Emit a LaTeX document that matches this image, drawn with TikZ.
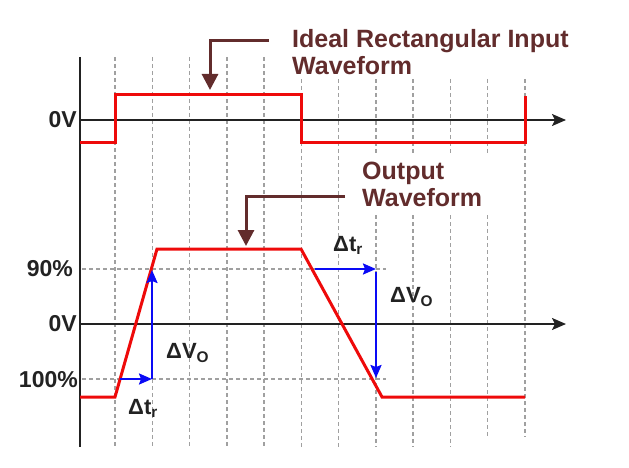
\documentclass[tikz,border=0pt]{standalone}
\usepackage{fontspec}
\setmainfont{Liberation Sans}
\usetikzlibrary{arrows.meta}
\definecolor{wavered}{RGB}{238,10,10}
\definecolor{deltablue}{RGB}{10,10,245}
\definecolor{callbrown}{RGB}{98,44,44}
\definecolor{axisgray}{RGB}{34,34,34}
\definecolor{gridgray}{RGB}{160,160,160}
\tikzstyle{every node}=[inner sep=0pt]
\tikzstyle{grid}=[gridgray,line width=1.5pt,dash pattern=on 4pt off 3pt]
\tikzstyle{axis}=[axisgray,line width=2pt]
\tikzstyle{axisarrow}=[axis,-{Stealth[length=14pt,width=12pt,inset=3pt]}]
\tikzstyle{wave}=[wavered,line width=3pt,line join=miter]
\tikzstyle{delta}=[deltablue,line width=2.2pt,-{Stealth[length=13pt,width=11pt,inset=2pt]}]
\tikzstyle{callout}=[callbrown,line width=3pt,-{Triangle[length=16pt,width=16pt]}]
\tikzstyle{axlabel}=[text=axisgray,font=\fontsize{23}{26}\selectfont\bfseries]
\tikzstyle{dlabel}=[text=axisgray,font=\fontsize{22}{25}\selectfont\bfseries]
\tikzstyle{calltext}=[text=callbrown,align=left,font=\fontsize{25}{27}\selectfont\bfseries]

\begin{document}
\begin{tikzpicture}[x=1pt,y=-1pt]
  \useasboundingbox (0,0) rectangle (629,468);
  % vertical grid
  \foreach \k in {0,...,4}
    \draw[grid] ({115+37.27*\k},57) -- ({115+37.27*\k},447);
  \foreach \k in {5,6}
    \draw[grid] ({115+37.27*\k},79) -- ({115+37.27*\k},447);
  \foreach \k in {7,8,9}
    \draw[grid] ({115+37.27*\k},79) -- ({115+37.27*\k},153)
      ({115+37.27*\k},215) -- ({115+37.27*\k},447);
  \draw[grid] (487.7,79) -- (487.7,153) (487.7,215) -- (487.7,437);
  \draw[grid] (525,79) -- (525,437);
  % 90% and 100% levels
  \draw[grid] (82,269) -- (386,269);
  \draw[grid] (82,379) -- (386,379);
  % axes
  \draw[axis] (80,57) -- (80,447);
  \draw[axisarrow] (80,120) -- (566,120);
  \draw[axisarrow] (80,324) -- (566,324);
  % waveforms
  \draw[wave] (80,143) -- (115,143) -- (115,95) -- (301,95) -- (301,143)
    -- (525,143) -- (525,96);
  \draw[wave] (80,397) -- (115,397) -- (157,249) -- (301,249) -- (382,397)
    -- (525,397);
  % rise and fall
  \coordinate (riselow) at (152,379);
  \coordinate (risehigh) at (152,270);
  \coordinate (fallhigh) at (376,269);
  \coordinate (falllow) at (376,378);
  \draw[delta] (120,379) -- (riselow);
  \draw[delta] (riselow) -- (risehigh);
  \draw[delta] (315,269) -- (fallhigh);
  \draw[delta] ([yshift=-3pt]fallhigh) -- (falllow);
  % labels
  \node[axlabel,anchor=east] (zerotop) at (77,120) {0V};
  \node[axlabel,anchor=east] (ninety) at (73,269) {90\%};
  \node[axlabel,anchor=east] (zerobot) at (77,324) {0V};
  \node[axlabel,anchor=east] (hundred) at (78,380) {100\%};
  \node[dlabel,anchor=west] (dvrise) at (166,353) {ΔV\textsubscript{O}};
  \node[dlabel,anchor=west] (dtrise) at (128,408) {Δt\textsubscript{r}};
  \node[dlabel,anchor=west] (dtfall) at (333,245) {Δt\textsubscript{r}};
  \node[dlabel,anchor=west] (dvfall) at (390,297) {ΔV\textsubscript{O}};
  % callouts
  \node[calltext,anchor=north west] (idealtext) at (292,29)
    {Ideal Rectangular Input\\Waveform};
  \node[calltext,anchor=north west] (outtext) at (362,162)
    {Output\\Waveform};
  \coordinate (idealstart) at (269,41);
  \coordinate (idealtip) at (210,90);
  \draw[callout] (idealstart) -| (idealtip);
  \coordinate (outstart) at (345,196);
  \coordinate (outtip) at (246,246);
  \draw[callout] (outstart) -| (outtip);
\end{tikzpicture}
\end{document}
